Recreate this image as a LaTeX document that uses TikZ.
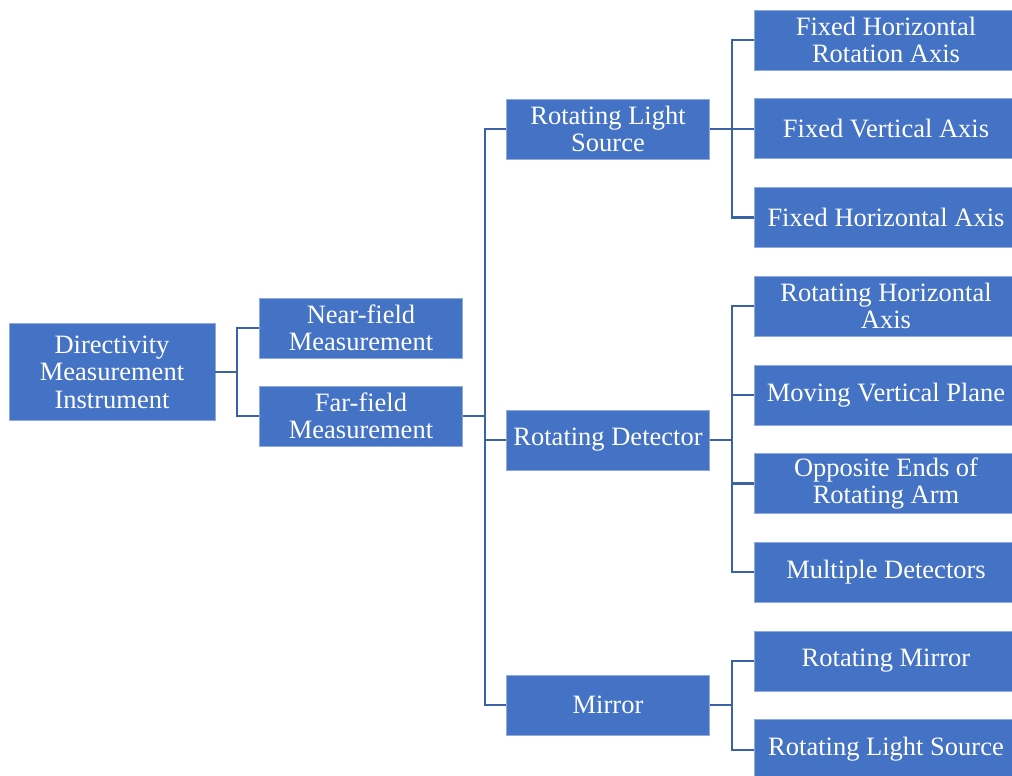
\documentclass[tikz,border=0pt]{standalone}
\usepackage{fontspec}
\setmainfont{Liberation Serif}
\usepackage{xcolor}
\usetikzlibrary{positioning}
\definecolor{boxblue}{HTML}{4472C4}
\definecolor{lineblue}{HTML}{3B62A6}

\begin{document}
\begin{tikzpicture}[x=1pt, y=-1pt, node distance=28.1pt]
\tikzstyle{topic} = [rectangle, fill=boxblue, draw=boxblue!60!white, line width=0.6pt, text=white, minimum width=206pt, minimum height=97pt, inner sep=0pt, align=center, font=\fontsize{26.5}{27.5}\selectfont]
\tikzstyle{branch} = [topic, minimum width=203pt, minimum height=60pt]
\tikzstyle{leaf} = [topic, minimum width=264pt, minimum height=60pt]
\tikzstyle{link} = [draw=lineblue, line width=2.2pt]

\useasboundingbox (0,0) rectangle (1012,776);

% root and first level
\node (root) [topic] at (112,372) {Directivity\\Measurement\\Instrument};
\node (near) [branch] at (361,328) {Near-field\\Measurement};
\node (far) [branch] at (361,416) {Far-field\\Measurement};

% second level
\node (source) [branch] at (608,129) {Rotating Light\\Source};
\node (detector) [branch] at (608,440) {Rotating Detector};
\node (mirror) [branch] at (608,705) {Mirror};

% leaves
\node (fhra) [leaf] at (886,40) {Fixed Horizontal\\Rotation Axis};
\node (fva) [leaf, below=of fhra] {Fixed Vertical Axis};
\node (fha) [leaf, below=of fva] {Fixed Horizontal Axis};
\node (rha) [leaf, below=of fha] {Rotating Horizontal\\Axis};
\node (mvp) [leaf, below=of rha] {Moving Vertical Plane};
\node (oera) [leaf, below=of mvp] {Opposite Ends of\\Rotating Arm};
\node (multi) [leaf, below=of oera] {Multiple Detectors};
\node (rmirror) [leaf, below=of multi] {Rotating Mirror};
\node (rsource) [leaf, below=of rmirror] {Rotating Light Source};

% connectors
\draw [link] (root.east) -- +(22,0) |- (near.west);
\draw [link] (root.east) -- +(22,0) |- (far.west);

\draw [link] (far.east) -- +(22,0) |- (source.west);
\draw [link] (far.east) -- +(22,0) |- (detector.west);
\draw [link] (far.east) -- +(22,0) |- (mirror.west);

\draw [link] (source.east) -- +(22,0) |- (fhra.west);
\draw [link] (source.east) -- +(22,0) |- (fva.west);
\draw [link] (source.east) -- +(22,0) |- (fha.west);

\draw [link] (detector.east) -- +(22,0) |- (rha.west);
\draw [link] (detector.east) -- +(22,0) |- (mvp.west);
\draw [link] (detector.east) -- +(22,0) |- (oera.west);
\draw [link] (detector.east) -- +(22,0) |- (multi.west);

\draw [link] (mirror.east) -- +(22,0) |- (rmirror.west);
\draw [link] (mirror.east) -- +(22,0) |- (rsource.west);

\end{tikzpicture}
\end{document}
